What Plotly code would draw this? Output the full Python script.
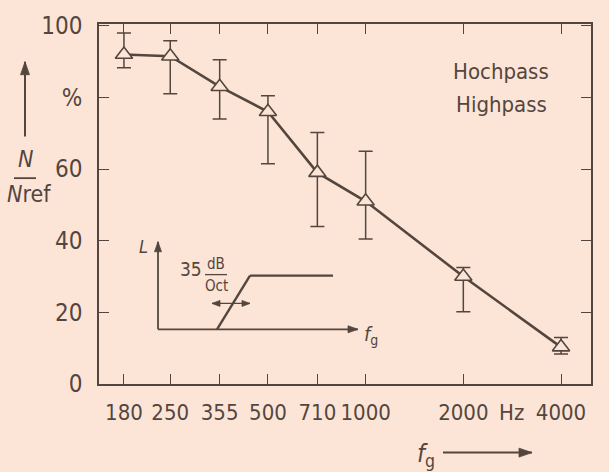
import plotly.graph_objects as go
import math

# ---- data ----
freqs = [180, 250, 355, 500, 710, 1000, 2000, 4000]
ratio = [92, 91.5, 83, 76, 59, 51, 30, 10.3]
err_top = [98, 95.8, 90.5, 80.5, 70.2, 65, 32.5, 13]
err_bottom = [88.3, 81, 74, 61.5, 44, 40.5, 20.2, 8.4]
x_tick_vals = [180, 250, 355, 500, 710, 1000, 2000, 4000]
x_tick_text = ["180", "250", "355", "500", "710", "1000", "2000", "4000"]
y_tick_vals = [0, 20, 40, 60, 80, 100]
y_tick_text = ["0", "20", "40", "60", "%", "100"]

BG = "#fce5d6"
INK = "#54463f"
FONT = "DejaVu Sans Condensed, Liberation Sans Narrow, sans-serif"

W, H = 609, 472
L, R, T, B = 99, 18, 22, 88
PW, PH = W - L - R, H - T - B


def px(x):
    return (x - L) / PW


def py(y):
    return (H - B - y) / PH


plus = [t - v for t, v in zip(err_top, ratio)]
minus = [v - b for v, b in zip(ratio, err_bottom)]

fig = go.Figure()
fig.add_trace(go.Scatter(
    x=freqs, y=ratio, mode="lines+markers",
    line=dict(color=INK, width=2.6),
    marker=dict(symbol="triangle-up", size=15, color=BG,
                line=dict(color=INK, width=1.6)),
    error_y=dict(type="data", array=plus, arrayminus=minus,
                 color=INK, thickness=1.5, width=7),
    showlegend=False,
))

axis_common = dict(showline=True, linecolor=INK, linewidth=1.6, mirror="ticks",
                   ticks="inside", ticklen=10, tickcolor=INK, tickwidth=1.4,
                   showgrid=False, zeroline=False, tickangle=0)

fig.update_xaxes(type="log",
                 range=[math.log10(150.8), math.log10(4948)],
                 tickvals=x_tick_vals, ticktext=x_tick_text,
                 tickfont=dict(family=FONT, size=22, color=INK),
                 ticklabelstandoff=8, **axis_common)
fig.update_yaxes(range=[0, 100.5], tickvals=y_tick_vals, ticktext=y_tick_text,
                 tickfont=dict(family=FONT, size=24, color=INK),
                 ticklabelstandoff=10, **axis_common)

shapes = []
annots = []


def line(x0, y0, x1, y1, w=1.8):
    shapes.append(dict(type="line", xref="paper", yref="paper",
                       x0=px(x0), y0=py(y0), x1=px(x1), y1=py(y1),
                       line=dict(color=INK, width=w)))


def head(xt, yt, dx, dy, ln=10, hw=3.5):
    # filled arrowhead with tip at (xt, yt), pointing in direction (dx, dy)
    n = math.hypot(dx, dy)
    ux, uy = dx / n, dy / n
    bx, by = xt - ux * ln, yt - uy * ln
    p1 = (bx - uy * hw, by + ux * hw)
    p2 = (bx + uy * hw, by - ux * hw)
    path = "M {} {} L {} {} L {} {} Z".format(
        px(xt), py(yt), px(p1[0]), py(p1[1]), px(p2[0]), py(p2[1]))
    shapes.append(dict(type="path", xref="paper", yref="paper", path=path,
                       fillcolor=INK, line=dict(color=INK, width=0.8)))


def arrow(xt, yt, xs, ys, both=False, w=1.8, ln=10, hw=3.5):
    line(xs, ys, xt, yt, w)
    head(xt, yt, xt - xs, yt - ys, ln, hw)
    if both:
        head(xs, ys, xs - xt, ys - yt, ln, hw)


def text(x, y, s, size=22, xanchor="center"):
    annots.append(dict(xref="paper", yref="paper", x=px(x), y=py(y),
                       text=s, showarrow=False, xanchor=xanchor, yanchor="middle",
                       font=dict(family=FONT, size=size, color=INK)))


# legend-like labels
text(501, 70, "Hochpass", 22)
text(501, 103, "Highpass", 22)

# Hz unit on x axis
text(511, 413, "Hz", 22)

# x axis title with arrow
text(426, 455, "<i>f</i><sub>g</sub>", 25)
arrow(532, 453, 443, 453, w=2.0, ln=13, hw=4.5)

# y axis title with arrow
arrow(25, 60, 25, 135, w=2.0, ln=13, hw=4.5)
text(25, 158, "<i>N</i>", 23)
line(14, 177, 36, 177, 1.8)
text(29, 193, "<i>N</i>ref", 23)

# inset sketch
arrow(158, 241, 158, 329, w=1.8, ln=10, hw=3.5)
arrow(358, 329, 158, 329, w=1.8, ln=10, hw=3.5)
text(143, 246, "<i>L</i>", 18)
text(371, 335, "<i>f</i><sub>g</sub>", 20)
line(217, 329, 250, 275, 2.4)
line(250, 275, 333, 275, 2.4)
text(191, 268, "35", 19)
text(216, 263, "dB", 15)
line(205, 274, 227, 274, 1.3)
text(216, 285, "Oct", 15)
arrow(250, 303, 212, 303, both=True, w=1.3, ln=8, hw=3)

fig.update_layout(
    width=W, height=H, margin=dict(l=L, r=R, t=T, b=B),
    paper_bgcolor=BG, plot_bgcolor=BG,
    shapes=shapes, annotations=annots,
    font=dict(family=FONT, color=INK),
)

fig.write_html("out.html")
